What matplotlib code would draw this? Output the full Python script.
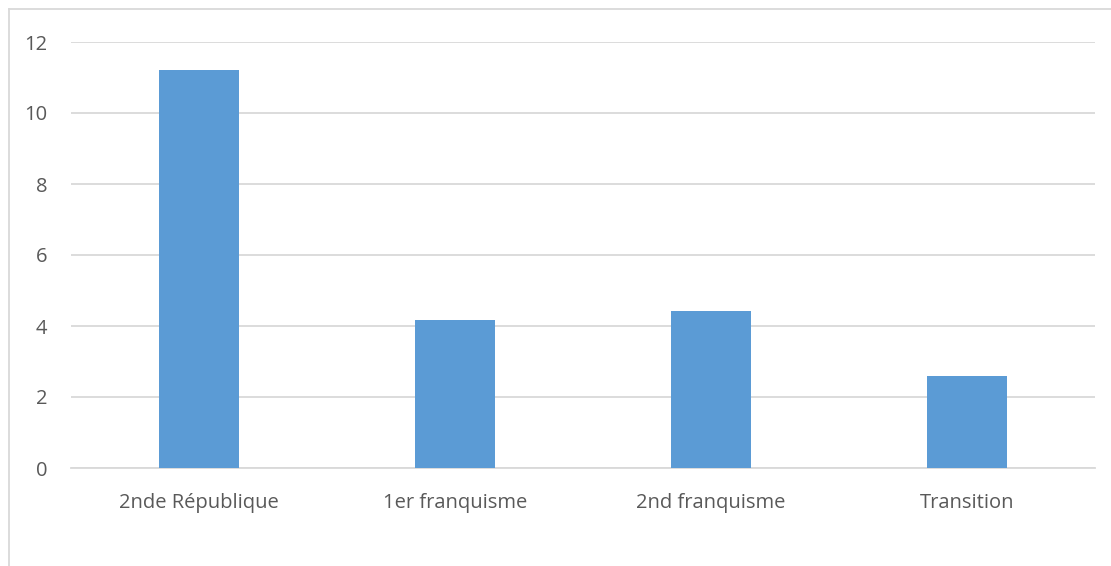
import matplotlib.pyplot as plt
from matplotlib.lines import Line2D

categories = ['2nde République', '1er franquisme', '2nd franquisme', 'Transition']
values = [11.2, 4.17, 4.42, 2.58]
yticks = [0, 2, 4, 6, 8, 10, 12]

plt.rcParams['font.family'] = ['Open Sans', 'DejaVu Sans']

fig = plt.figure(figsize=(11.11, 5.66), dpi=100)
ax = fig.add_axes([71 / 1111, 1 - 468 / 566, (1095 - 71) / 1111, (468 - 42) / 566])

ax.bar(range(len(categories)), values, width=0.31, color='#5b9bd5', zorder=3)
ax.set_xlim(-0.5, len(categories) - 0.5)
ax.set_ylim(0, 12)
ax.set_yticks(yticks)
ax.set_xticks(range(len(categories)))
ax.set_xticklabels(categories)
ax.yaxis.grid(True, color='#d9d9d9', linewidth=1.3, zorder=0)
ax.set_axisbelow(True)
for s in ['top', 'right', 'left']:
    ax.spines[s].set_visible(False)
ax.spines['bottom'].set_color('#d9d9d9')
ax.spines['bottom'].set_linewidth(1.3)
ax.tick_params(axis='both', length=0, labelsize=14.5, colors='#595959')
ax.tick_params(axis='x', pad=18)
ax.tick_params(axis='y', pad=17)

# outer chart border: only the left and top edges are visible
fig.add_artist(Line2D([9 / 1111, 9 / 1111], [0, 1 - 9 / 566],
                      transform=fig.transFigure, color='#d9d9d9', linewidth=1.3))
fig.add_artist(Line2D([9 / 1111, 1], [1 - 9 / 566, 1 - 9 / 566],
                      transform=fig.transFigure, color='#d9d9d9', linewidth=1.3))

fig.savefig('out.png', dpi=100)
